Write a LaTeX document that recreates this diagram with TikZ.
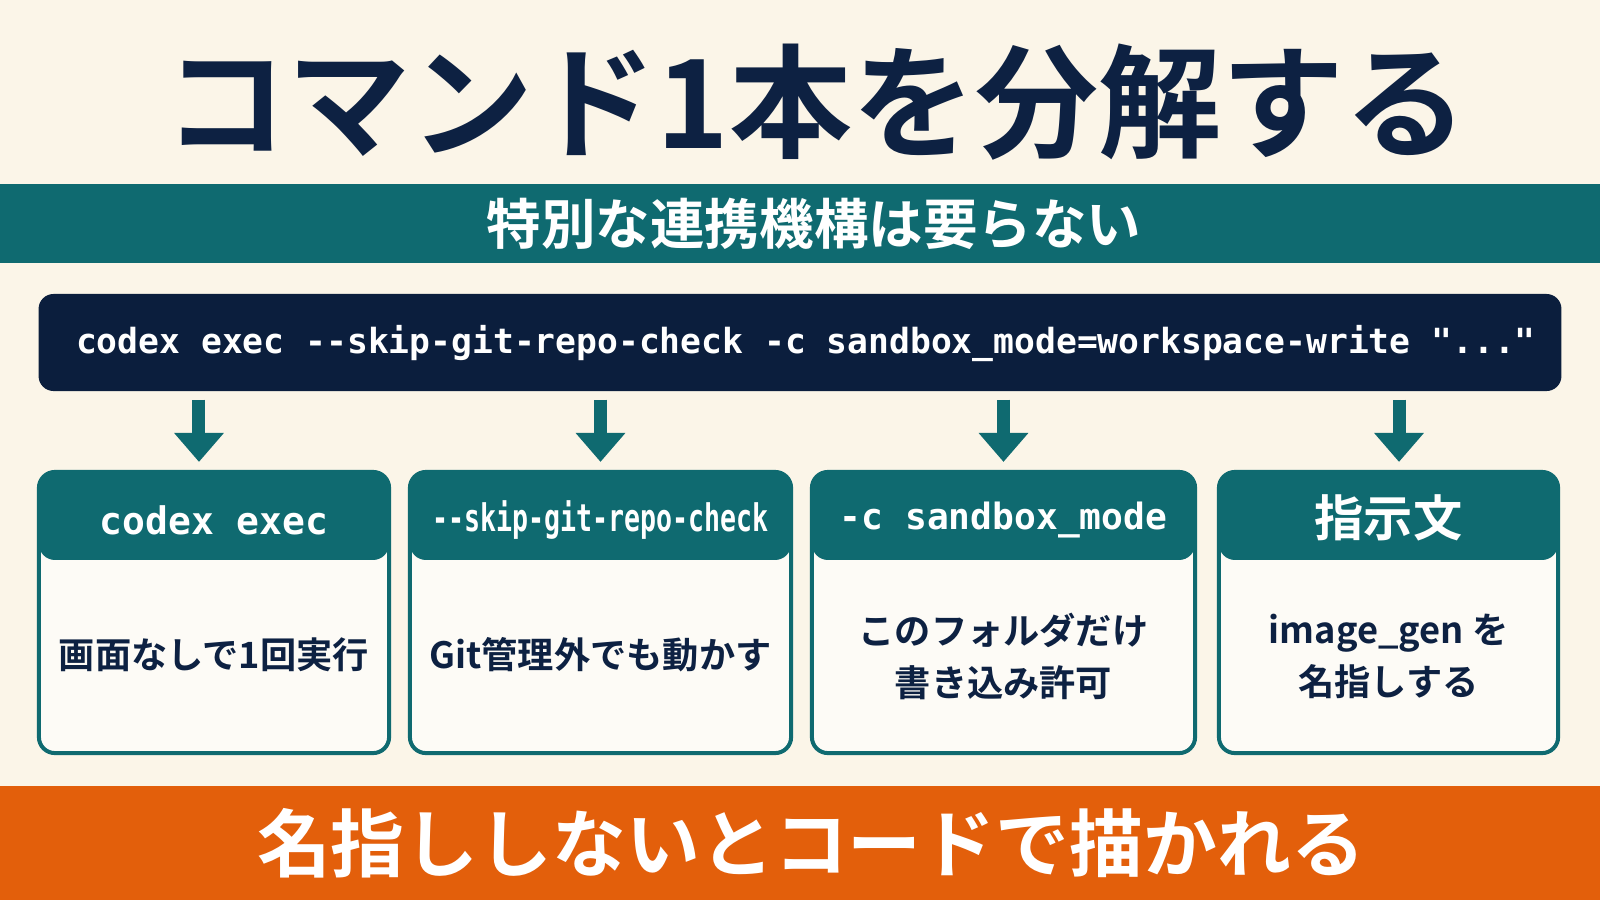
\documentclass[tikz,border=0pt]{standalone}
\usepackage{fontspec}
\setmainfont{Noto Sans CJK JP}[BoldFont=* Bold]
\setmonofont{DejaVu Sans Mono}
\usetikzlibrary{arrows.meta, positioning, calc}
\definecolor{cBg}{HTML}{FBF5E8}
\definecolor{cNavy}{HTML}{0D2142}
\definecolor{cCmd}{HTML}{0B1E3D}
\definecolor{cTeal}{HTML}{0F6A70}
\definecolor{cOrange}{HTML}{E35F0B}
\definecolor{cPaper}{HTML}{FDFBF6}
\tikzset{
	title/.style   ={inner sep=0pt, text=cNavy, font=\bfseries\fontsize{35pt}{40pt}\selectfont},
	band/.style    ={rectangle, minimum width=16.4cm, inner sep=0pt, text=white},
	cmdbox/.style  ={rectangle, rounded corners=1.5mm, fill=cCmd, minimum width=15.22cm, minimum height=9.7mm, inner sep=0pt},
	cmdtext/.style ={inner sep=0pt, text=white, font=\ttfamily\bfseries\fontsize{9.85pt}{12pt}\selectfont},
	% option cards: teal head strip, pale body
	card/.style    ={rectangle, rounded corners=1.6mm, draw=cTeal, line width=0.4mm, fill=cPaper, minimum height=28.1mm, inner sep=0pt,
		path picture={\fill[cTeal] (path picture bounding box.north west) rectangle ([yshift=-8.8mm]path picture bounding box.north east);}},
	hdtext/.style  ={inner sep=0pt, text=white, font=\ttfamily\bfseries\fontsize{10.8pt}{13pt}\selectfont},
	bodytext/.style={inner sep=0pt, align=center, text=cNavy, font=\bfseries\fontsize{10.3pt}{14.8pt}\selectfont},
	downarr/.style ={-{Triangle[length=2.9mm, width=4.8mm]}, line width=1.3mm, draw=cTeal, shorten <=0.8mm, shorten >=0.8mm},
}
\begin{document}
\begin{tikzpicture}[x=0.01cm, y=-0.01cm]
	\useasboundingbox (0,0) rectangle (1600,900);
	\fill[cBg] (0,0) rectangle (1600,900);
	\node[title] (ttl) at (816,102) {コマンド1本を分解する};
	\node[band, fill=cTeal, minimum height=7.9mm, font=\bfseries\fontsize{15.5pt}{18pt}\selectfont] (sub) at (814,223.5) {特別な連携機構は要らない};
	\node[cmdbox] (cmd) at (800,342.5) {};
	\node[cmdtext] (cmdl) at (806,343) {codex exec --skip-git-repo-check -c sandbox\_mode=workspace-write "..."};
	\node[card, minimum width=3.5cm] (c1) at (214,612.5) {};
	\node[card, minimum width=3.81cm] (c2) at (600.5,612.5) {};
	\node[card, minimum width=3.83cm] (c3) at (1003.5,612.5) {};
	\node[card, minimum width=3.39cm] (c4) at (1388.5,612.5) {};
	\node[hdtext] (h1) at ([yshift=-5mm]c1.north) {codex exec};
	\node[hdtext] (h2) at ([yshift=-5mm]c2.north) {\scalebox{0.7}[1]{--skip-git-repo-check}};
	\node[hdtext, font=\ttfamily\bfseries\fontsize{10.3pt}{13pt}\selectfont] (h3) at ([yshift=-5mm]c3.north) {-c sandbox\_mode};
	\node[hdtext, font=\bfseries\fontsize{14pt}{16pt}\selectfont] (h4) at ([yshift=-4.8mm]c4.north) {指示文};
	\node[bodytext] (t1) at ([yshift=-4.2mm]c1.center) {画面なしで1回実行};
	\node[bodytext] (t2) at ([yshift=-4.2mm]c2.center) {Git管理外でも動かす};
	\node[bodytext] (t3) at ([yshift=-4.4mm]c3.center) {このフォルダだけ\\書き込み許可};
	\node[bodytext] (t4) at ([yshift=-4.4mm]c4.center) {image\_gen を\\名指しする};
	\draw[downarr] ([xshift=-1.5mm]cmd.south -| c1.north) -- ([xshift=-1.5mm]c1.north);
	\draw[downarr] (cmd.south -| c2.north) -- (c2.north);
	\draw[downarr] (cmd.south -| c3.north) -- (c3.north);
	\draw[downarr] ([xshift=1.05mm]cmd.south -| c4.north) -- ([xshift=1.05mm]c4.north);
	\node[band, fill=cOrange, minimum height=11.4mm, font=\bfseries\fontsize{21pt}{24pt}\selectfont] (msg) at (811,843) {名指ししないとコードで描かれる};
\end{tikzpicture}
\end{document}
